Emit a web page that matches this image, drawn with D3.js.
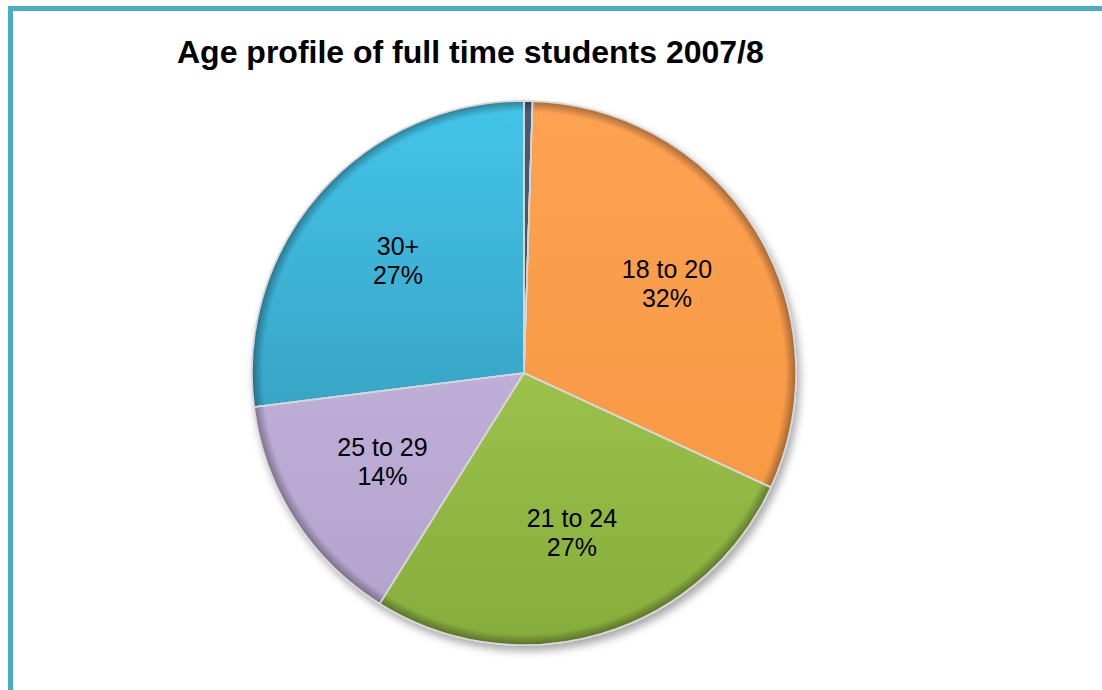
<!DOCTYPE html>
<html><head><meta charset="utf-8">
<script src="https://cdn.jsdelivr.net/npm/d3@7"></script>
<style>html,body{margin:0;padding:0;background:#fff;overflow:hidden}</style>
</head><body>
<script>
const title = "Age profile of full time students 2007/8";
const categories = ["Under 18", "18 to 20", "21 to 24", "25 to 29", "30+"];
const values = [0.5, 31.4, 27.0, 14.1, 27.0];
const percentLabels = ["", "32%", "27%", "14%", "27%"];
const topColors = ["#4A5B73", "#FDA252", "#B0D757", "#C9BAE3", "#44C4EA"];
const bottomColors = ["#36445A", "#F6963F", "#86AC3C", "#B3A3CC", "#2E8DAA"];

const W = 1102, H = 690;
const svg = d3.select("body").append("svg").attr("width", W).attr("height", H);
const defs = svg.append("defs");

// frame
svg.append("rect").attr("x", 10.5).attr("y", 8.5).attr("width", 1200).attr("height", 800)
  .attr("fill", "none").attr("stroke", "#4BACC6").attr("stroke-width", 5);

svg.append("text").attr("x", 177).attr("y", 63)
  .attr("font-family", "Liberation Sans, Arial, sans-serif").attr("font-weight", "bold")
  .attr("font-size", 32).attr("fill", "#000").text(title);

const cx = 524, cy = 373, R = 272;
const g = svg.append("g").attr("transform", `translate(${cx},${cy})`);

const f = defs.append("filter").attr("id", "sh").attr("x", "-20%").attr("y", "-20%").attr("width", "140%").attr("height", "140%");
f.append("feDropShadow").attr("dx", 3).attr("dy", 5).attr("stdDeviation", 4).attr("flood-color", "#000").attr("flood-opacity", 0.35);

categories.forEach((c, i) => {
  const lg = defs.append("linearGradient").attr("id", "lg" + i)
    .attr("gradientUnits", "userSpaceOnUse").attr("x1", 0).attr("y1", -R).attr("x2", 0).attr("y2", R);
  lg.append("stop").attr("offset", "0%").attr("stop-color", topColors[i]);
  lg.append("stop").attr("offset", "100%").attr("stop-color", bottomColors[i]);
});
const rg = defs.append("radialGradient").attr("id", "edge")
  .attr("gradientUnits", "userSpaceOnUse").attr("cx", 0).attr("cy", 0).attr("r", R);
rg.append("stop").attr("offset", "0%").attr("stop-color", "#000").attr("stop-opacity", 0);
rg.append("stop").attr("offset", "96%").attr("stop-color", "#000").attr("stop-opacity", 0);
rg.append("stop").attr("offset", "100%").attr("stop-color", "#000").attr("stop-opacity", 0.35);

const pie = d3.pie().sort(null).value(d => d);
const arcs = pie(values);
const arc = d3.arc().innerRadius(0).outerRadius(R);
const labelArc = d3.arc().innerRadius(168).outerRadius(168);

const sg = g.append("g").attr("filter", "url(#sh)");
sg.selectAll("path.s").data(arcs).join("path").attr("class", "s")
  .attr("d", arc).attr("fill", (d, i) => `url(#lg${i})`)
  .attr("stroke", "#dadada").attr("stroke-width", 1.5).attr("stroke-linejoin", "round");
g.selectAll("path.e").data(arcs).join("path").attr("class", "e")
  .attr("d", arc).attr("fill", "url(#edge)");
g.selectAll("path.b").data(arcs).join("path").attr("class", "b")
  .attr("d", arc).attr("fill", "none").attr("stroke", "#d6d6d6").attr("stroke-width", 1.5).attr("stroke-linejoin", "round");

const lab = g.selectAll("text.l").data(arcs.filter((d, i) => percentLabels[i] !== ""))
  .join("text").attr("class", "l")
  .attr("transform", d => `translate(${labelArc.centroid(d)})`)
  .attr("text-anchor", "middle")
  .attr("font-family", "Liberation Sans, Arial, sans-serif").attr("font-size", 25).attr("fill", "#000");
lab.append("tspan").attr("x", 0).attr("dy", -7).text(d => categories[d.index]);
lab.append("tspan").attr("x", 0).attr("dy", 29).text(d => percentLabels[d.index]);
</script>
</body></html>
